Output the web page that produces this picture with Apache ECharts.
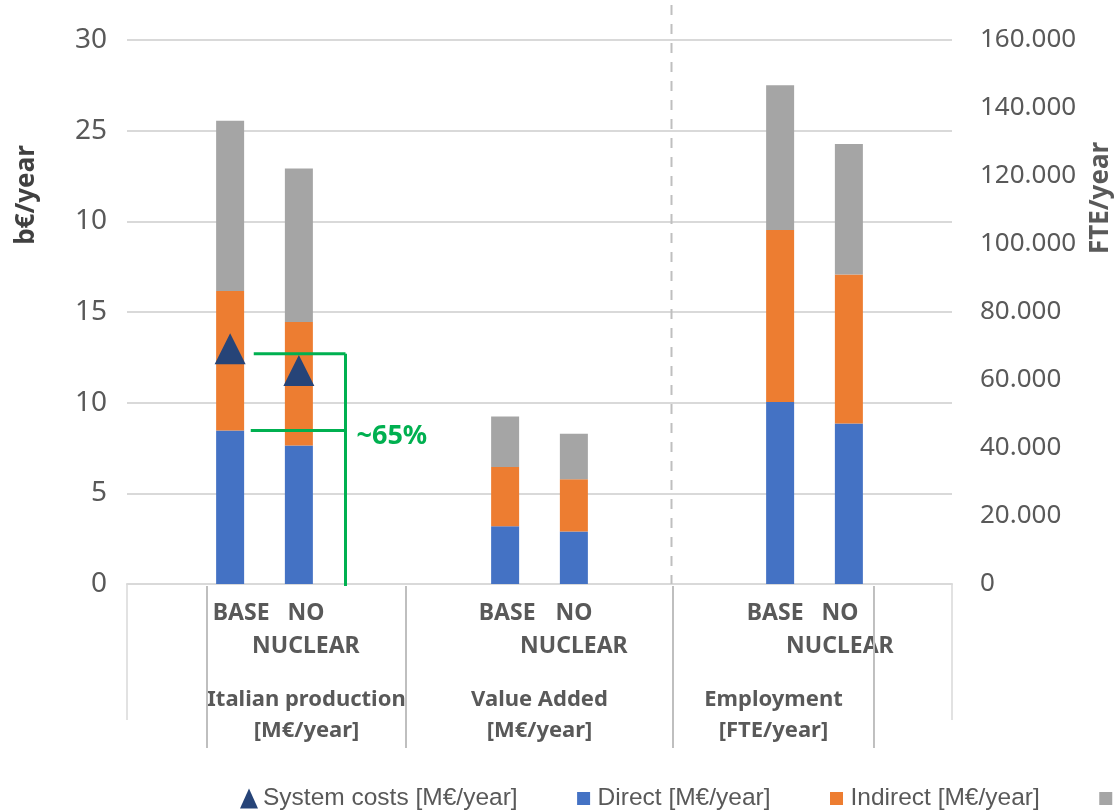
<!DOCTYPE html>
<html>
<head>
<meta charset="utf-8">
<title>Economic impact: BASE vs NO NUCLEAR</title>
<script src="https://cdn.jsdelivr.net/npm/echarts@6/dist/echarts.min.js"></script>
<style>
  html, body { margin: 0; padding: 0; background: #ffffff; }
  #chart { width: 1115px; height: 812px; }
</style>
</head>
<body>
<div id="chart"></div>
<script>
// Category slots along the x axis (empty slots separate the three groups)
const categories = ['', 'BASE', 'NO\nNUCLEAR', '', '', 'BASE', 'NO\nNUCLEAR', '', '', 'BASE', 'NO\nNUCLEAR', ''];
const groupLabels = ['Italian production\n[M€/year]', 'Value Added\n[M€/year]', 'Employment\n[FTE/year]'];
const leftTickLabels = ['0', '5', '10', '15', '10', '25', '30'];
const rightTickLabels = ['0', '20.000', '40.000', '60.000', '80.000', '100.000', '120.000', '140.000', '160.000'];

// Scenario values [BASE, NO NUCLEAR] (b€/year on the left axis, FTE/year on the right)
const productionDirect = [8.47, 7.64];
const productionIndirect = [7.69, 6.81];
const productionInduced = [9.38, 8.46];
const valueAddedDirect = [3.19, 2.90];
const valueAddedIndirect = [3.26, 2.87];
const valueAddedInduced = [2.79, 2.52];
const employmentDirect = [53500, 47200];
const employmentIndirect = [50600, 43800];
const employmentInduced = [42600, 38400];
const systemCosts = [12.97, 11.77];

// Share annotation levels (b€/year)
const shareTop = 12.7;
const shareBottom = 8.47;
const shareLabel = '~65%';

const seriesNames = ['System costs [M€/year]', 'Direct [M€/year]', 'Indirect [M€/year]', 'Induced [M€/year]'];
const colors = { system: '#264478', direct: '#4472C4', indirect: '#ED7D31', induced: '#A5A5A5', share: '#00B050' };

// Slot indices used by each group
const productionSlots = [1, 2];
const valueAddedSlots = [5, 6];
const employmentSlots = [9, 10];
// Group divider positions, in category units
const groupEdges = [0.664, 3.558, 7.442, 10.365];
const frameEdges = [-0.5, 11.5];
const separatorPos = 7.42;
const sharePos = { start: 1.30, line: 2.678 };
// Horizontal nudge (px) of each category label
const labelShift = [0, 11, 7, 0, 0, 2, 0, 0, 0, -5, -9, 0];

function place(pairs) {
  const arr = categories.map(() => null);
  pairs.forEach(([slots, vals]) => slots.forEach((s, i) => { arr[s] = vals[i]; }));
  return arr;
}

const font = '"Noto Sans", "Open Sans", sans-serif';
const textGrey = '#595959';
// Legend square drawn inside a taller icon box so the triangle can be larger
const squareIcon = 'path://M0,0M18,20M2.5,3.5h13v13h-13z';

const labelRich = {};
labelShift.forEach((s, i) => {
  labelRich['c' + i] = {
    fontFamily: font, fontSize: 23, fontWeight: 'bold', color: textGrey, lineHeight: 33,
    padding: s >= 0 ? [0, 0, 0, 2 * s] : [0, -2 * s, 0, 0]
  };
});

const chart = echarts.init(document.getElementById('chart'), null, { renderer: 'canvas' });

const barCommon = { type: 'bar', barWidth: 28, barGap: '-100%' };

chart.setOption({
  animation: false,
  backgroundColor: '#ffffff',
  grid: { left: 127, right: 163, top: 40, bottom: 228, containLabel: false },
  legend: {
    left: 240, top: 786, width: 1600, padding: 0,
    itemGap: 57, itemWidth: 18, itemHeight: 20,
    textStyle: { fontFamily: '"Liberation Sans", Arial, sans-serif', fontSize: 24.5, color: textGrey },
    data: [
      { name: seriesNames[0], icon: 'triangle' },
      { name: seriesNames[1], icon: squareIcon },
      { name: seriesNames[2], icon: squareIcon },
      { name: seriesNames[3], icon: squareIcon }
    ]
  },
  xAxis: {
    type: 'category',
    data: categories,
    axisLine: { lineStyle: { color: '#D9D9D9', width: 2 } },
    axisTick: { show: false },
    axisLabel: {
      interval: 0, margin: 13,
      fontFamily: font, fontSize: 23, fontWeight: 'bold', color: textGrey, lineHeight: 33,
      formatter: (value, index) => value
        ? value.split('\n').map(part => '{c' + index + '|' + part + '}').join('\n')
        : '',
      rich: labelRich
    }
  },
  yAxis: [
    {
      type: 'value', min: 0, max: 30, interval: 5,
      axisLine: { show: false }, axisTick: { show: false },
      splitLine: { lineStyle: { color: '#D9D9D9', width: 2 } },
      axisLabel: {
        margin: 20, fontFamily: font, fontSize: 28, color: textGrey,
        formatter: v => leftTickLabels[Math.round(v / 5)]
      }
    },
    {
      type: 'value', min: 0, max: 160000, interval: 20000,
      axisLine: { show: false }, axisTick: { show: false },
      splitLine: { show: false },
      axisLabel: {
        margin: 28, fontFamily: font, fontSize: 26, color: textGrey,
        formatter: v => rightTickLabels[Math.round(v / 20000)]
      }
    }
  ],
  series: [
    Object.assign({}, barCommon, {
      name: seriesNames[1], stack: 'left', yAxisIndex: 0, itemStyle: { color: colors.direct },
      data: place([[productionSlots, productionDirect], [valueAddedSlots, valueAddedDirect]])
    }),
    Object.assign({}, barCommon, {
      name: seriesNames[2], stack: 'left', yAxisIndex: 0, itemStyle: { color: colors.indirect },
      data: place([[productionSlots, productionIndirect], [valueAddedSlots, valueAddedIndirect]])
    }),
    Object.assign({}, barCommon, {
      name: seriesNames[3], stack: 'left', yAxisIndex: 0, itemStyle: { color: colors.induced },
      data: place([[productionSlots, productionInduced], [valueAddedSlots, valueAddedInduced]])
    }),
    Object.assign({}, barCommon, {
      name: seriesNames[1], stack: 'right', yAxisIndex: 1, itemStyle: { color: colors.direct },
      data: place([[employmentSlots, employmentDirect]])
    }),
    Object.assign({}, barCommon, {
      name: seriesNames[2], stack: 'right', yAxisIndex: 1, itemStyle: { color: colors.indirect },
      data: place([[employmentSlots, employmentIndirect]])
    }),
    Object.assign({}, barCommon, {
      name: seriesNames[3], stack: 'right', yAxisIndex: 1, itemStyle: { color: colors.induced },
      data: place([[employmentSlots, employmentInduced]])
    }),
    {
      name: seriesNames[0], type: 'scatter', yAxisIndex: 0, z: 5,
      symbol: 'triangle', symbolSize: 31,
      itemStyle: { color: colors.system, opacity: 1 },
      data: place([[productionSlots, systemCosts]])
    }
  ]
});

// Decorations placed through the axes' own scales
const x0 = chart.convertToPixel({ xAxisIndex: 0 }, 0);
const x1 = chart.convertToPixel({ xAxisIndex: 0 }, 1);
const slot = x1 - x0;
const catX = c => x0 + c * slot;
const yL = v => chart.convertToPixel({ yAxisIndex: 0 }, v);
const yBase = yL(0);

const graphics = [];
const line = (xa, ya, xb, yb, style) => graphics.push({
  type: 'line', silent: true, z: 10,
  shape: { x1: xa, y1: ya, x2: xb, y2: yb }, style
});

frameEdges.forEach(c => line(catX(c), yBase, catX(c), yBase + 136, { stroke: '#D9D9D9', lineWidth: 1.5 }));
groupEdges.forEach(c => line(catX(c), yBase + 2, catX(c), yBase + 164, { stroke: '#BFBFBF', lineWidth: 2 }));
line(catX(separatorPos), 5, catX(separatorPos), yBase, { stroke: '#BFBFBF', lineWidth: 2, lineDash: [10, 9] });

groupLabels.forEach((txt, i) => {
  graphics.push({
    type: 'text', silent: true, z: 10,
    x: (catX(groupEdges[i]) + catX(groupEdges[i + 1])) / 2, y: yBase + 100,
    style: {
      text: txt, align: 'center', verticalAlign: 'top',
      font: 'bold 22px ' + font, fill: textGrey, lineHeight: 31
    }
  });
});

// Share bracket
const shareStyle = { stroke: colors.share, lineWidth: 3 };
line(catX(sharePos.start) + 3, yL(shareTop), catX(sharePos.line), yL(shareTop), shareStyle);
line(catX(sharePos.start), yL(shareBottom), catX(sharePos.line), yL(shareBottom), shareStyle);
line(catX(sharePos.line), yL(shareTop), catX(sharePos.line), yBase + 2, shareStyle);
graphics.push({
  type: 'text', silent: true, z: 10,
  x: catX(sharePos.line) + 11, y: yL(shareBottom) + 6,
  style: { text: shareLabel, align: 'left', verticalAlign: 'middle', font: 'bold 27px ' + font, fill: colors.share }
});

// Axis titles
graphics.push({
  type: 'text', silent: true, x: 27, y: 195, rotation: Math.PI / 2,
  style: { text: 'b€/year', align: 'center', verticalAlign: 'middle', font: 'bold 26px ' + font, fill: '#404040' }
});
graphics.push({
  type: 'text', silent: true, x: 1101, y: 198, rotation: Math.PI / 2,
  style: { text: 'FTE/year', align: 'center', verticalAlign: 'middle', font: 'bold 26px ' + font, fill: textGrey }
});

chart.setOption({ graphic: graphics });
</script>
</body>
</html>
